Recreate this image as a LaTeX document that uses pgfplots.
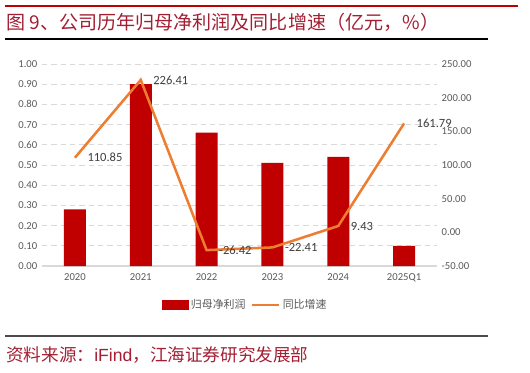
\documentclass[border=0pt]{standalone}
\usepackage{fontspec}
\setmainfont{Carlito}
\newfontfamily\cjk{Noto Sans CJK SC}
\usepackage{pgfplots}
\pgfplotsset{compat=1.18}
\usepackage{pgfplotstable}
\definecolor{barred}{HTML}{C00000}
\definecolor{lineorange}{HTML}{ED7D31}
\definecolor{titlered}{HTML}{A31F34}
\definecolor{ticklab}{HTML}{595959}
\definecolor{datalab}{HTML}{404040}
\definecolor{gridc}{HTML}{D9D9D9}

\pgfplotstableread{
x profit
0 0.28
1 0.90
2 0.66
3 0.51
4 0.54
5 0.10
}\bars
\pgfplotstableread{
x growth label
0 110.85 110.85
1 226.41 226.41
2 -26.42 -26.42
3 -22.41 -22.41
4 9.43 9.43
5 161.79 161.79
}\growth

\newcommand{\PX}[2]{({#1*0.75pt},{-#2*0.75pt})}

\begin{document}
\begin{tikzpicture}
\useasboundingbox (0,0) rectangle (397.5pt,-279.75pt);
% header / footer rules
\draw[barred, line width=2.2pt] \PX{5}{6} -- \PX{518}{6};
\draw[black, line width=0.8pt] \PX{5}{39} -- \PX{488}{39};
\draw[black!70, line width=1.1pt] \PX{5}{336} -- \PX{488}{336};
\node[anchor=west, inner sep=0pt, text=titlered, font=\cjk\fontsize{14.3}{16}\selectfont] at \PX{6}{22} {图 9、公司历年归母净利润及同比增速（亿元，\%）};
\node[anchor=west, inner sep=0pt, text=titlered, font=\cjk\fontsize{13.2}{15}\selectfont] at \PX{6}{355} {资料来源：{\fontspec{Liberation Sans}iFind}，江海证券研究发展部};

\begin{axis}[
  at={(31.5pt,-199.5pt)}, anchor=south west,
  scale only axis, width=296.25pt, height=151.5pt,
  xmin=-0.5, xmax=5.5, ymin=0, ymax=1,
  xtick=data, xticklabels={2020,2021,2022,2023,2024,2025Q1},
  ytick={0,0.1,0.2,0.3,0.4,0.5,0.6,0.7,0.8,0.9,1.0},
  yticklabel style={/pgf/number format/.cd, fixed, fixed zerofill, precision=2, assume math mode=true},
  tick label style={font=\fontsize{8}{9}\selectfont, text=ticklab},
  xticklabel style={yshift=-2pt},
  major tick length=0pt,
  ymajorgrids, grid style={gridc, dashed, line width=0.6pt, dash pattern=on 4pt off 3pt},
  axis x line*=bottom, axis y line*=left,
  x axis line style={-, draw=gridc, line width=0.8pt},
  y axis line style={draw=none},
  ybar, bar width=16.5pt,
]
\addplot[fill=barred, draw=none] table[x=x, y=profit] {\bars};
\end{axis}

\begin{axis}[
  at={(31.5pt,-199.5pt)}, anchor=south west,
  scale only axis, width=296.25pt, height=151.5pt,
  xmin=-0.5, xmax=5.5, ymin=-50, ymax=250,
  ytick={-50,0,50,100,150,200,250},
  yticklabel style={/pgf/number format/.cd, fixed, fixed zerofill, precision=2, assume math mode=true},
  tick label style={font=\fontsize{8}{9}\selectfont, text=ticklab},
  major tick length=0pt,
  axis y line*=right, axis x line=none,
  y axis line style={draw=none},
  legend style={at={(0.515,-0.193)}, anchor=center, draw=none, fill=none,
    legend columns=2, font=\cjk\fontsize{8.2}{9}\selectfont, text=ticklab,
    /tikz/every even column/.append style={column sep=2pt}},
  legend cell align=left,
]
\addlegendimage{legend image code/.code={\fill[barred] (0pt,-3.4pt) rectangle (19.5pt,3.4pt);}}
\addlegendentry{归母净利润}
\addplot[lineorange, line width=1.9pt, no markers,
  legend image code/.code={\draw[lineorange, line width=1.9pt] (0pt,0pt) -- (20pt,0pt);},
  nodes near coords, point meta=explicit symbolic,
  every node near coord/.style={anchor=west, xshift=8.5pt, font=\fontsize{9.4}{10}\selectfont, text=datalab, inner sep=0pt}]
  table[x=x, y=growth, meta=label] {\growth};
\addlegendentry{同比增速}
\end{axis}
\end{tikzpicture}
\end{document}
